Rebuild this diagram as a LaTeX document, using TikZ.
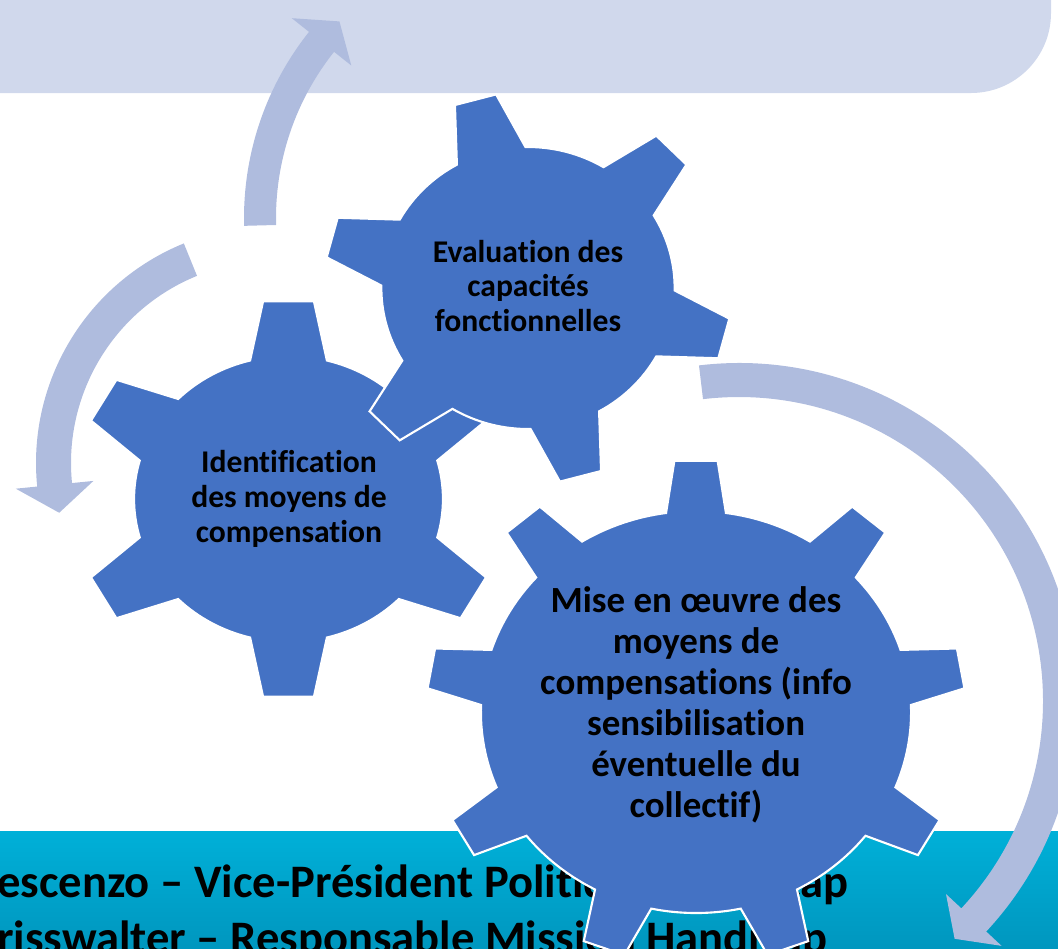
\documentclass[tikz,border=0pt]{standalone}
\usepackage{fontspec}
\setmainfont{Carlito}[Ligatures={NoCommon,NoContextual}]
\definecolor{gearblue}{RGB}{68,114,196}
\definecolor{bandlav}{RGB}{208,216,236}
\definecolor{arrowblue}{RGB}{175,188,222}
\definecolor{cyantop}{RGB}{0,176,216}
\definecolor{cyanbot}{RGB}{0,148,188}

\newcommand{\gearshape}[6]{%
  \pgfmathsetmacro{\gstep}{360/#1}
  \filldraw[gearfill] ({#6-#4}:#2)
    \foreach \k in {1,...,#1}{
      -- ({#6+(\k-1)*\gstep-#5}:#3) -- ({#6+(\k-1)*\gstep+#5}:#3)
      -- ({#6+(\k-1)*\gstep+#4}:#2)
      arc[start angle={#6+(\k-1)*\gstep+#4}, end angle={#6+\k*\gstep-#4}, radius=#2]
    } -- cycle;
}
\newcommand{\roundarrow}[6]{%
  \fill[arrowfill] ({#4}:{#1+#2}) arc[start angle=#4, end angle=#5, radius={#1+#2}]
    -- ({#5}:{#1+#3}) -- ({#6}:{#1}) -- ({#5}:{#1-#3}) -- ({#5}:{#1-#2})
    arc[start angle=#5, end angle=#4, radius={#1-#2}] -- cycle;
}

\begin{document}
\begin{tikzpicture}[x=0.02cm, y=-0.02cm,
  gearfill/.style={fill=gearblue, draw=white, line width=1.2pt},
  arrowfill/.style={fill=arrowblue},
  gearlabel/.style={align=center, inner sep=0pt, font=\bfseries\fontsize{18}{19.8}\selectfont},
  biglabel/.style={font=\bfseries\fontsize{21}{23.3}\selectfont},
  bandlabel/.style={anchor=base west, inner sep=0pt, font=\bfseries\fontsize{26.5}{32}\selectfont}]
\useasboundingbox (0,0) rectangle (1058,948);
\clip (0,0) rectangle (1058,948);

\coordinate (E) at (528,288);
\coordinate (I) at (288.5,499);
\coordinate (M) at (696,712);
\coordinate (AE) at (543,218);
\coordinate (AI) at (273,463);
\coordinate (AM) at (739,701);

\fill[bandlav, rounded corners=1.6cm] (-100,-200) rectangle (1051,93);
\shade[top color=cyantop, bottom color=cyanbot] (-20,831) rectangle (1080,960);

\node[bandlabel] (ligneA) at (-3,897) {escenzo – Vice-Président Politique Handicap};
\node[bandlabel] (ligneB) at (-3,953) {risswalter – Responsable Mission Handicap};

\begin{scope}[shift={(AE)}] \roundarrow{283}{16}{38}{178.5}{218.5}{224} \end{scope}
\begin{scope}[shift={(AI)}] \roundarrow{219.5}{17.5}{39}{247.9}{174.3}{166.9} \end{scope}
\begin{scope}[shift={(AM)}] \roundarrow{321}{17}{38}{-96.8}{43}{47.8} \end{scope}

\begin{scope}[shift={(I)}, xscale=1.08] \gearshape{6}{143}{199}{14.4}{6.8}{30} \end{scope}
\begin{scope}[shift={(E)}, xscale=1.04] \gearshape{6}{141}{196}{14}{6}{15} \end{scope}
\begin{scope}[shift={(M)}, xscale=1.07] \gearshape{9}{201}{252}{8}{4.6}{270} \end{scope}

\node[gearlabel] (evaluation) at (528,286) {Evaluation des\\capacités\\fonctionnelles};
\node[gearlabel] (identification) at (289,499) {Identification\\des moyens de\\compensation};
\node[gearlabel, biglabel] (miseenoeuvre) at (696,705) {Mise en œuvre des\\moyens de\\compensations (info\\sensibilisation\\éventuelle du\\collectif)};
\end{tikzpicture}
\end{document}
